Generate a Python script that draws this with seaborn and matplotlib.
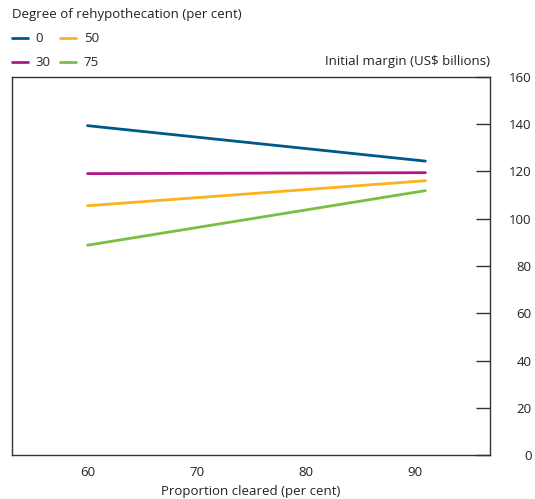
import pandas as pd
import seaborn as sns
import matplotlib.pyplot as plt
from matplotlib.ticker import FixedLocator, NullFormatter, FixedFormatter

# 数据：清算比例与初始保证金
proportion = [60, 91]
degree = ['0', '30', '50', '75']
margin_0 = [139.4, 124.4]
margin_30 = [119.1, 119.5]
margin_50 = [105.5, 116.1]
margin_75 = [88.8, 111.9]

df = pd.DataFrame({
    'proportion': proportion * 4,
    'degree': [d for d in degree for _ in proportion],
    'margin': margin_0 + margin_30 + margin_50 + margin_75,
})

sns.set_style('white')
plt.rcParams['font.family'] = ['Open Sans', 'DejaVu Sans']
plt.rcParams['font.size'] = 9.5
edge = '#333333'

colors = {'0': '#00578a', '30': '#b0188a', '50': '#fdb11b', '75': '#78bf42'}

fig = plt.figure(figsize=(5.35, 4.99), dpi=100)
ax = fig.add_axes([12 / 535, 1 - 455 / 499, 478 / 535, 378 / 499])

sns.lineplot(data=df, x='proportion', y='margin', hue='degree', hue_order=degree,
             palette=colors, linewidth=2, ax=ax, legend=True)

ax.set_xlim(53.07, 96.93)
ax.set_ylim(0, 160)

# x轴：主刻度在 55、65...，标签在 60、70...
ax.xaxis.set_major_locator(FixedLocator([55, 65, 75, 85, 95]))
ax.xaxis.set_major_formatter(NullFormatter())
ax.xaxis.set_minor_locator(FixedLocator([60, 70, 80, 90]))
ax.xaxis.set_minor_formatter(FixedFormatter(['60', '70', '80', '90']))
ax.tick_params(axis='x', which='major', direction='in', length=10, width=1, color=edge)
ax.tick_params(axis='x', which='minor', length=0, pad=8, labelcolor='#222222')

# y轴在右侧，标签右对齐
ax.yaxis.tick_right()
ax.set_yticks(range(0, 161, 20))
ax.tick_params(axis='y', direction='in', length=10, width=1, color=edge, pad=30,
               labelcolor='#222222')
for lab in ax.get_yticklabels():
    lab.set_horizontalalignment('right')

for s in ax.spines.values():
    s.set_visible(True)
    s.set_color(edge)
    s.set_linewidth(1)

ax.set_xlabel('Proportion cleared (per cent)', color='#222222', labelpad=4)
ax.set_ylabel('')
ax.text(1.0, 1.025, 'Initial margin (US$ billions)', transform=ax.transAxes,
        ha='right', va='bottom', color='#222222')

handles, labels = ax.get_legend_handles_labels()
ax.legend(handles, labels, ncol=2, loc='upper left', bbox_to_anchor=(0.0, 1.1825),
          frameon=False, title='Degree of rehypothecation (per cent)',
          alignment='left', handlelength=1.2, handletextpad=0.6,
          columnspacing=0.7, labelspacing=0.85, borderaxespad=0, borderpad=0)
ax.get_legend().get_title().set_color('#222222')

plt.savefig('out.png', dpi=100)
